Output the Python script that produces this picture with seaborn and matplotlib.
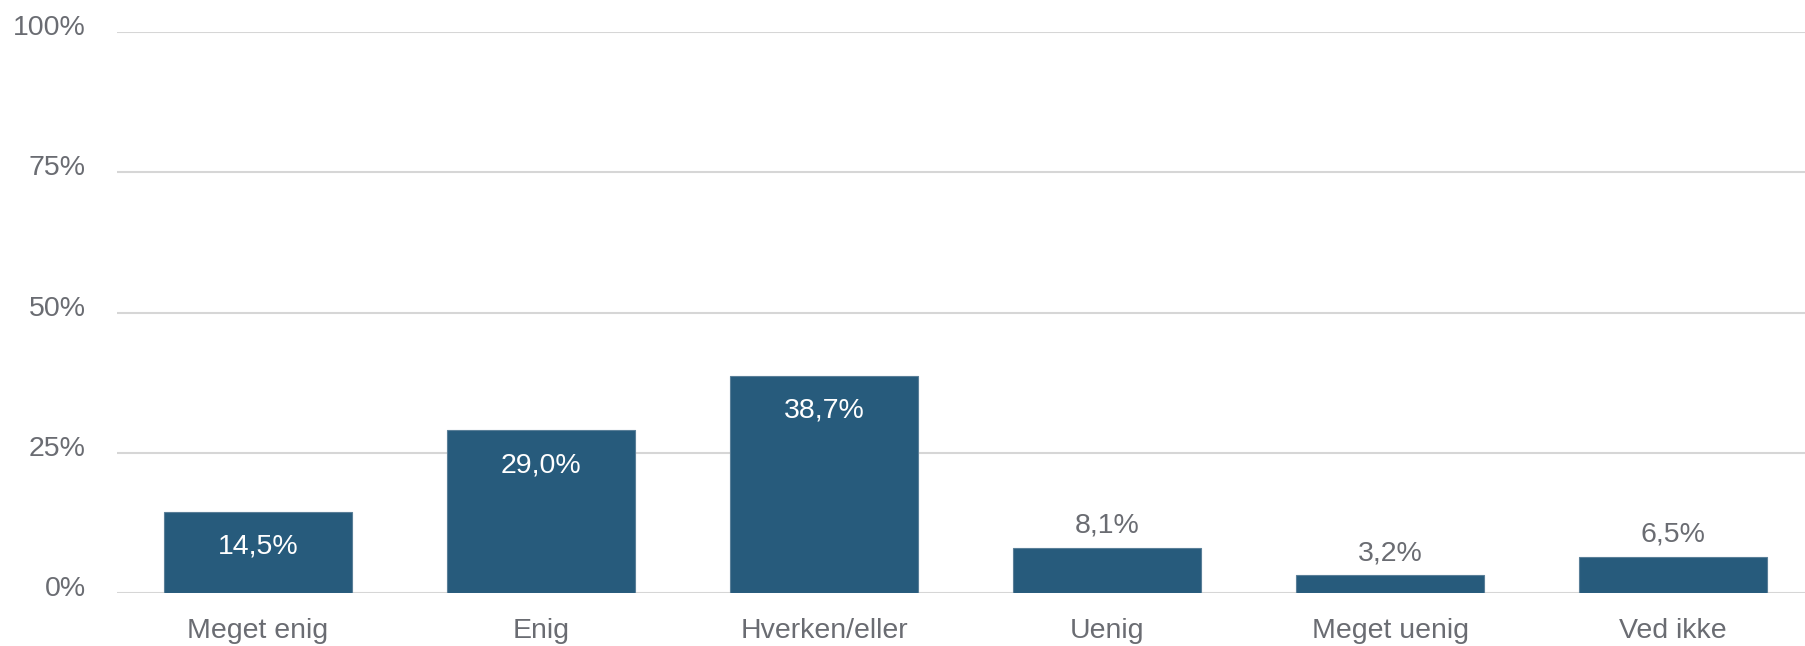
import numpy as np
import pandas as pd
import seaborn as sns
import matplotlib.pyplot as plt
from matplotlib.transforms import offset_copy

# Survey answers and share of respondents (%)
categories = ["Meget enig", "Enig", "Hverken/eller", "Uenig", "Meget uenig", "Ved ikke"]
shares = [14.5, 29.0, 38.7, 8.1, 3.2, 6.5]
yticks = [0, 25, 50, 75, 100]

df = pd.DataFrame({"Svar": categories, "Andel": shares})

sns.set_style("white")
plt.rcParams["font.family"] = ["Liberation Sans", "DejaVu Sans"]

bar_color = "#275b7c"
text_grey = "#6a6c72"
grid_grey = "#d6d6d6"
fs = 20.5

fig = plt.figure(figsize=(18.05, 6.46), dpi=100)
ax = fig.add_axes([116.5 / 1805, 1 - 593 / 646, 1698 / 1805, 561 / 646])

sns.barplot(data=df, x="Svar", y="Andel", color=bar_color, saturation=1, width=0.665,
            edgecolor="#5a7f98", linewidth=0.8, ax=ax, zorder=3)

ax.set_ylim(0, 100)
ax.set_xlim(-0.5, len(categories) - 0.5)
ax.set_yticks(yticks)
ax.set_yticklabels([f"{t}%" for t in yticks])
ax.yaxis.grid(True, color=grid_grey, linewidth=1.5, zorder=0)
ax.set_axisbelow(True)
for s in ax.spines.values():
    s.set_visible(False)
ax.tick_params(axis="y", length=0, pad=22, labelsize=fs, labelcolor=text_grey)
ax.tick_params(axis="x", length=0, pad=18, labelsize=fs, labelcolor=text_grey)
ax.set_xlabel("")
ax.set_ylabel("")

# y labels sit a little above their gridline
for lab in ax.get_yticklabels():
    lab.set_transform(offset_copy(lab.get_transform(), fig=fig, x=0, y=7, units="dots"))

# value labels: inside the bar for tall bars, above it for short ones
for i, v in enumerate(shares):
    txt = f"{v:.1f}%".replace(".", ",")
    if v > 12:
        ax.annotate(txt, (i, v), xytext=(0, -35), textcoords="offset pixels",
                    ha="center", va="center", color="white", fontsize=fs, zorder=5)
    else:
        ax.annotate(txt, (i, v), xytext=(0, 22), textcoords="offset pixels",
                    ha="center", va="center", color=text_grey, fontsize=fs, zorder=5)

fig.savefig("out.png", dpi=100, facecolor="white")
